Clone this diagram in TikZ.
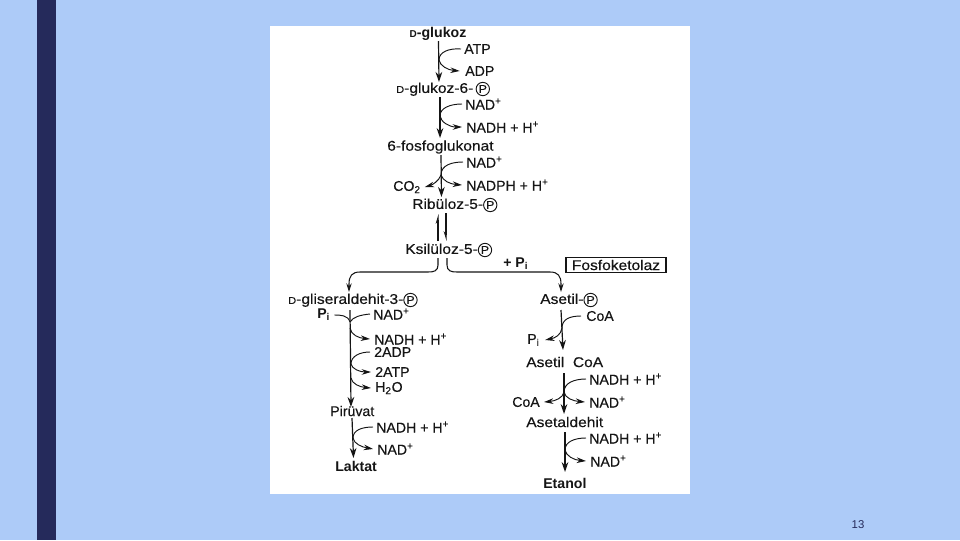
\documentclass[tikz,border=0pt]{standalone}
\usepackage{fontspec}
\setmainfont{Liberation Sans}
\newfontfamily\semifont[FakeBold=0.35]{Liberation Sans}
\newfontfamily\widefont[FakeBold=0.35,FakeStretch=1.1]{Liberation Sans}
\usetikzlibrary{arrows.meta}
\definecolor{bgblue}{HTML}{ADCBF8}
\definecolor{barblue}{HTML}{252A5B}
\definecolor{inkc}{HTML}{151515}
\newcommand{\cP}{\tikz[baseline=(cpin.base)]\node[draw=inkc,line width=0.7pt,circle,inner sep=0.4pt,minimum size=10pt] (cpin) {\fontsize{8.5}{9}\selectfont P};}
\newcommand{\sD}{{\fontsize{7.5}{9}\selectfont D}}
\tikzset{
  x=0.75pt,y=-0.75pt,
  lab/.style={anchor=west,inner sep=0pt,font=\fontsize{10.6}{12}\selectfont\semifont,text=inkc},
  wname/.style={lab,font=\fontsize{10.6}{12}\selectfont\widefont},
  labb/.style={lab,font=\fontsize{10.6}{12}\selectfont\bfseries},
  main/.style={draw=inkc,line width=0.9pt,-{Stealth[length=7.5pt,width=5pt]}},
  sidein/.style={draw=inkc,line width=0.7pt},
  sideout/.style={draw=inkc,line width=0.7pt,-{Stealth[length=7pt,width=4.2pt]}},
  halfup/.style={draw=inkc,line width=0.8pt,-{Stealth[length=6pt,width=3.5pt,left]}},
  halfdown/.style={draw=inkc,line width=0.8pt,-{Stealth[length=6pt,width=3.5pt,right]}},
  branch/.style={draw=inkc,line width=0.8pt,-{Stealth[length=6.5pt,width=4pt]}},
}
\begin{document}
\begin{tikzpicture}
\useasboundingbox (0,0) rectangle (960,540);
\fill[bgblue] (0,0) rectangle (960,540);
\fill[barblue] (37,0) rectangle (56,540);
\fill[white] (270,26) rectangle (690,494);
\node[anchor=center,inner sep=0pt,font=\fontsize{8.5}{10}\selectfont,text=barblue] (pg) at (858,525) {13};

% upper labels
\node[labb,anchor=center] (glc) at (438,34) {\sD-glukoz};
\node[lab] (atp) at (464,49) {ATP};
\node[lab] (adp) at (465,71) {ADP};
\node[wname] (g6p) at (396,89) {\sD-glukoz-6-\,\cP};
\node[lab] (nad1) at (465,104) {NAD\textsuperscript{+}};
\node[lab] (nadh1) at (466,127) {NADH + H\textsuperscript{+}};
\node[wname] (fg) at (387,147) {6-fosfoglukonat};
\node[lab] (nad2) at (466,162) {NAD\textsuperscript{+}};
\node[lab] (nadph) at (466,185) {NADPH + H\textsuperscript{+}};
\node[lab] (co2) at (393,187) {CO\textsubscript{2}};
\node[wname] (rib) at (412,205) {Ribüloz-5-\cP};
\node[wname] (ksi) at (405,250) {Ksilüloz-5-\cP};
\node[labb] (pi0) at (503,264) {+ P\textsubscript{i}};
\node[wname,anchor=center,draw=inkc,line width=0.8pt,minimum width=75pt,minimum height=11.5pt] (fos) at (616,265) {Fosfoketolaz};

% left branch labels
\node[wname] (gap) at (288,300) {\sD-gliseraldehit-3-\cP};
\node[labb] (pil) at (317,315) {P\textsubscript{i}};
\node[lab] (nad3) at (373,314) {NAD\textsuperscript{+}};
\node[lab] (nadh3) at (374,339) {NADH + H\textsuperscript{+}};
\node[lab] (adp2) at (374,352) {2ADP};
\node[lab] (atp2) at (375,372) {2ATP};
\node[lab] (h2o) at (375,388) {H\textsubscript{2}O};
\node[lab] (pir) at (330,411) {Pirüvat};
\node[lab] (nadh4) at (376,427) {NADH + H\textsuperscript{+}};
\node[lab] (nad4) at (377,449) {NAD\textsuperscript{+}};
\node[labb] (lak) at (335,466) {Laktat};

% right branch labels
\node[wname] (ase) at (540,300) {Asetil-\cP};
\node[lab] (coa1) at (586,316) {CoA};
\node[lab] (pi2) at (527,340) {P\textsubscript{i}};
\node[wname] (acoa) at (526,362) {Asetil\ \ CoA};
\node[lab] (nadh5) at (589,379) {NADH + H\textsuperscript{+}};
\node[lab] (coa2) at (512,402) {CoA};
\node[lab] (nad5) at (589,402) {NAD\textsuperscript{+}};
\node[wname] (ald) at (526,422) {Asetaldehit};
\node[lab] (nadh6) at (589,438) {NADH + H\textsuperscript{+}};
\node[lab] (nad6) at (590,461) {NAD\textsuperscript{+}};
\node[labb] (eta) at (543,483) {Etanol};

% main arrows
\draw[main] (438.5,41) -- (439,82);
\draw[main] (440,97) -- (440,138);
\draw[main] (441,155) -- (441.5,197);
\draw[halfup] (438,241) -- (438,214);
\draw[halfdown] (446,213) -- (446,241);
\draw[main] (350,310) -- (351,407);
\draw[main] (352,418) -- (353.5,458);
\draw[main] (561,310) -- (563,350);
\draw[main] (564,373) -- (564,414);
\draw[main] (565,432) -- (565,472);

% side reactions
\draw[sidein] (atp.west) ++(-3,0) .. controls (449,48) and (439,52) .. (439,60);
\draw[sideout] (439,60) .. controls (440,66) and (448,70) .. ([xshift=-4pt]adp.west);
\draw[sidein] (nad1.west) ++(-3,0) .. controls (450,104) and (440,108) .. (440,116);
\draw[sideout] (440,116) .. controls (441,122) and (449,127) .. ([xshift=-3pt]nadh1.west);
\draw[sidein] (nad2.west) ++(-3,0) .. controls (452,162) and (441,165) .. (441,175);
\draw[sideout] (441,175) .. controls (443,181) and (450,184) .. ([xshift=-3pt]nadph.west);
\draw[sideout] (441,175) .. controls (439,181) and (432,185) .. ([xshift=3pt]co2.east);

% branch
\draw[branch] (438,258) -- (438,265) .. controls (438,271) and (434,272) .. (428,272) -- (360,272) .. controls (352,272) and (349,276) .. (349,284) -- (349,292);
\draw[branch] (447,258) -- (447,265) .. controls (447,271) and (451,272) .. (457,272) -- (550,272) .. controls (558,272) and (561,276) .. (561,284) -- (561,292);

% left branch side
\draw[sidein] ([xshift=3pt]pil.east) .. controls (340,315) and (348,315) .. (350,322);
\draw[sidein] (nad3.west) ++(-3,0) .. controls (360,315) and (353,317) .. (350,322);
\draw[sideout] (350,328) .. controls (351,335) and (359,338) .. ([xshift=-3pt]nadh3.west);
\draw[sidein] (adp2.west) ++(-4,0) .. controls (360,352) and (351,356) .. (351,364);
\draw[sideout] (351,364) .. controls (352,369) and (360,372) .. ([xshift=-3pt]atp2.west);
\draw[sideout] (351,378) .. controls (352,384) and (360,387) .. ([xshift=-3pt]h2o.west);
\draw[sidein] (nadh4.west) ++(-3,0) .. controls (362,427) and (353,430) .. (353,438);
\draw[sideout] (353,438) .. controls (354,444) and (362,447) .. ([xshift=-3pt]nad4.west);

% right branch side
\draw[sidein] (coa1.west) ++(-5,0) .. controls (570,316) and (562,319) .. (562,328);
\draw[sideout] (562,328) .. controls (561,335) and (555,338) .. ([xshift=4pt]pi2.east);
\draw[sidein] (nadh5.west) ++(-3,0) .. controls (574,379) and (564,383) .. (564,392);
\draw[sideout] (564,392) .. controls (565,398) and (573,401) .. ([xshift=-3pt]nad5.west);
\draw[sideout] (564,392) .. controls (563,398) and (555,401) .. ([xshift=3pt]coa2.east);
\draw[sidein] (nadh6.west) ++(-3,0) .. controls (574,438) and (565,442) .. (565,450);
\draw[sideout] (565,450) .. controls (566,456) and (574,460) .. ([xshift=-3pt]nad6.west);
\end{tikzpicture}
\end{document}
